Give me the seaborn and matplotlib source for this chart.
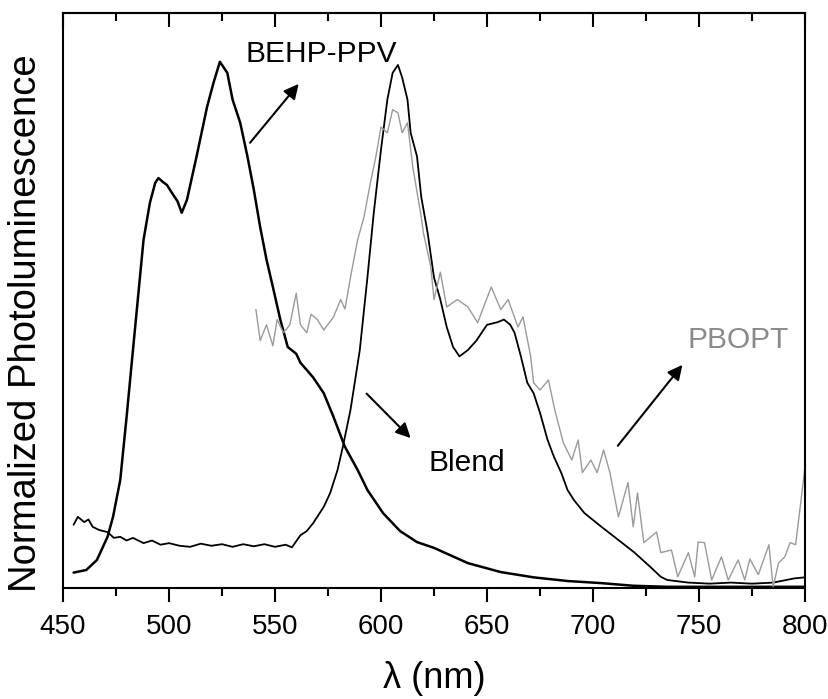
import matplotlib
matplotlib.use("Agg")
import matplotlib.pyplot as plt
import seaborn as sns

# spettri (lunghezza d'onda in nm, PL normalizzata)
behp_nm = [455, 461, 466, 471, 473.6, 477, 480, 483, 488, 491, 493.5, 495, 497, 499, 502, 504, 506,
           508.5, 513, 518, 521, 524, 527.5, 530, 533.6, 537, 540, 543, 546, 549, 552.5, 556, 560,
           562, 568, 573, 577.6, 583, 589, 593.6, 601, 609, 617, 625, 641, 656.5, 672, 688, 704,
           719, 735, 760, 800]
behp_pl = [0.029, 0.034, 0.053, 0.097, 0.135, 0.205, 0.325, 0.452, 0.662, 0.732, 0.77, 0.779, 0.772,
           0.766, 0.747, 0.735, 0.713, 0.738, 0.82, 0.915, 0.96, 1.0, 0.979, 0.928, 0.884, 0.82,
           0.757, 0.686, 0.624, 0.572, 0.51, 0.458, 0.445, 0.428, 0.40, 0.37, 0.325, 0.268, 0.224,
           0.186, 0.142, 0.108, 0.087, 0.076, 0.047, 0.030, 0.02, 0.013, 0.009, 0.004, 0.002,
           0.002, 0.002]

blend_nm = [455, 457, 460, 462, 464, 467, 471, 474, 477, 480, 483, 488, 492, 496, 500, 505, 510, 515,
            520, 525, 530, 535, 540, 545, 550, 555, 558, 562, 565, 568, 573, 576, 579.5, 582, 585.6,
            588, 590, 593.6, 596.6, 600, 603, 605.5, 608, 610, 612.5, 614, 617, 619, 622, 625, 628,
            631, 634, 637, 641, 645, 650, 655, 658, 661, 663, 666, 669, 672, 675, 678.6, 681.6, 685,
            688, 691, 696, 704, 712, 719.6, 727, 732, 735, 745, 755, 765, 775, 785, 795, 800]
blend_pl = [0.12, 0.135, 0.125, 0.13, 0.116, 0.11, 0.106, 0.095, 0.097, 0.09, 0.095, 0.085, 0.09,
            0.082, 0.085, 0.08, 0.078, 0.084, 0.08, 0.083, 0.078, 0.083, 0.079, 0.083, 0.078, 0.082,
            0.077, 0.10, 0.108, 0.123, 0.154, 0.18, 0.224, 0.268, 0.338, 0.40, 0.452, 0.59, 0.713,
            0.833, 0.928, 0.979, 0.994, 0.97, 0.928, 0.865, 0.82, 0.743, 0.675, 0.59, 0.548, 0.496,
            0.458, 0.44, 0.452, 0.47, 0.50, 0.505, 0.51, 0.5, 0.485, 0.44, 0.39, 0.37, 0.333, 0.281,
            0.249, 0.219, 0.186, 0.167, 0.142, 0.116, 0.091, 0.067, 0.04, 0.021, 0.015, 0.01, 0.008,
            0.01, 0.008, 0.01, 0.018, 0.02]

pbopt_nm = [541, 543, 546, 549, 551, 554, 557, 560, 562, 565, 567, 570, 573, 577.6, 581, 583, 585.6,
            589, 592, 595, 597.6, 600, 603, 605.5, 608, 610, 612.5, 615, 619, 620, 623.5, 625, 628,
            631, 636, 641, 645.6, 652, 656.5, 660, 664.6, 667, 670.6, 672, 675, 679, 682, 686, 690,
            693, 695, 699, 702, 705, 708, 712, 716.5, 719, 721, 724, 730, 732, 737, 740, 745, 748,
            749.6, 752.6, 756, 760.6, 763.8, 768.5, 771.6, 774, 778, 783, 785, 787.5, 790.5, 793,
            795.6, 798, 800]
pbopt_pl = [0.529, 0.47, 0.50, 0.46, 0.51, 0.485, 0.50, 0.56, 0.50, 0.485, 0.52, 0.51, 0.49, 0.515,
            0.548, 0.53, 0.59, 0.662, 0.705, 0.77, 0.82, 0.876, 0.865, 0.909, 0.903, 0.865, 0.884,
            0.80, 0.705, 0.675, 0.61, 0.548, 0.60, 0.534, 0.548, 0.534, 0.504, 0.572, 0.529, 0.548,
            0.496, 0.515, 0.44, 0.39, 0.376, 0.395, 0.338, 0.276, 0.243, 0.281, 0.219, 0.243, 0.219,
            0.262, 0.219, 0.135, 0.2, 0.116, 0.18, 0.086, 0.106, 0.067, 0.072, 0.021, 0.067, 0.021,
            0.087, 0.086, 0.015, 0.059, 0.015, 0.053, 0.015, 0.055, 0.025, 0.082, 0.002, 0.047,
            0.059, 0.086, 0.082, 0.162, 0.23]

sns.set_style("ticks")
plt.rcParams['font.family'] = ['Liberation Sans', 'DejaVu Sans']
plt.rcParams['text.color'] = 'black'
plt.rcParams['axes.labelcolor'] = 'black'
plt.rcParams['xtick.color'] = 'black'

fig = plt.figure(figsize=(8.29, 6.99), dpi=100)
ax = fig.add_axes([0.076, 0.159, 0.895, 0.8226])

sns.lineplot(x=behp_nm, y=behp_pl, ax=ax, color='black', lw=1.8, estimator=None)
sns.lineplot(x=blend_nm, y=blend_pl, ax=ax, color='black', lw=1.3, estimator=None)
sns.lineplot(x=pbopt_nm, y=pbopt_pl, ax=ax, color='#9a9a9a', lw=1.0, estimator=None)

ax.set_xlim(450, 800)
ax.set_ylim(0, 1.093)
ax.set_xticks(range(450, 801, 50))
ax.set_xticks(range(475, 800, 50), minor=True)
ax.set_yticks([])
ax.tick_params(axis='x', which='major', direction='out', length=10, width=1.5, labelsize=20, pad=9)
ax.tick_params(axis='x', which='minor', direction='out', length=5.5, width=1.5)
for s in ax.spines.values():
    s.set_linewidth(1.5)
    s.set_color('black')

# tacche in alto verso l'interno
top = ax.secondary_xaxis('top')
top.set_xticks(range(450, 801, 50))
top.set_xticks(range(475, 800, 50), minor=True)
top.tick_params(which='major', direction='in', length=10, width=1.5, labeltop=False, color='black')
top.tick_params(which='minor', direction='in', length=5.5, width=1.5, color='black')
top.spines['top'].set_linewidth(1.5)

ax.set_xlabel('λ (nm)', fontsize=26, labelpad=15)
ax.set_ylabel('Normalized Photoluminescence', fontsize=27.5)
ax.yaxis.set_label_coords(-0.025, 0.461)

# etichette con frecce
ax.text(572, 1.015, 'BEHP-PPV', fontsize=21.5, ha='center', va='center')
ax.annotate('', xy=(562, 0.962), xytext=(537.4, 0.842),
            arrowprops=dict(arrowstyle='-|>', color='black', lw=1.5, mutation_scale=22))
ax.text(640.5, 0.238, 'Blend', fontsize=21.5, ha='center', va='center')
ax.annotate('', xy=(614.9, 0.281), xytext=(592.3, 0.373),
            arrowprops=dict(arrowstyle='-|>', color='black', lw=1.5, mutation_scale=22))
ax.text(768.5, 0.471, 'PBOPT', fontsize=21.5, ha='center', va='center', color='#8a8a8a')
ax.annotate('', xy=(743, 0.428), xytext=(710.9, 0.266),
            arrowprops=dict(arrowstyle='-|>', color='black', lw=1.5, mutation_scale=22))

fig.savefig('out.png', dpi=100)
